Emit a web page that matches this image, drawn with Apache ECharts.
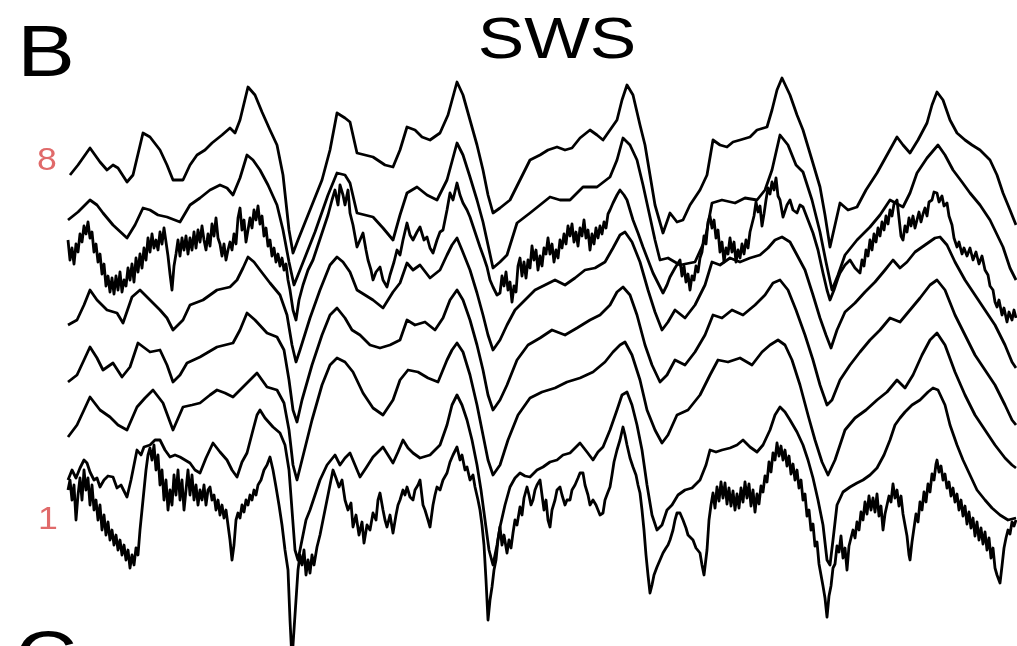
<!DOCTYPE html>
<html>
<head>
<meta charset="utf-8">
<script src="https://cdn.jsdelivr.net/npm/echarts@6/dist/echarts.min.js"></script>
<style>
html,body{margin:0;padding:0;background:#fff;}
#chart{width:1017px;height:646px;}
</style>
</head>
<body>
<div id="chart"></div>
<script>
// Time in samples from the start of the window, amplitude in µV (negative plotted up).
const panelLetter = 'B';
const nextPanelLetter = 'C';
const stageTitle = 'SWS';
const channelLabels = ['1', '8'];
const channelSpacing = 48;

const ch8 = [[2,25],[10,15],[22,-2],[32,12],[39,20],[45,15],[50,18],[59,32],[65,25],[75,-17],[82,-13],[92,0],[99,15],[105,30],[115,30],[122,15],[129,5],[137,0],[144,-7],[154,-15],[162,-22],[167,-17],[172,-30],[180,-63],[187,-55],[194,-38],[202,-20],[209,-5],[215,25],[221,80],[225,103],[230,90],[242,60],[254,30],[262,0],[269,-37],[277,-32],[282,-28],[289,3],[297,5],[305,7],[317,15],[325,17],[332,0],[339,-23],[347,-20],[354,-13],[362,-10],[372,-17],[380,-35],[389,-68],[395,-55],[402,-30],[409,-5],[415,20],[420,45],[425,63],[432,58],[442,50],[452,30],[462,10],[472,5],[480,0],[489,-3],[497,0],[504,-2],[512,-12],[522,-20],[529,-15],[535,-10],[542,-20],[549,-30],[554,-50],[559,-65],[565,-55],[572,-25],[577,-5],[582,25],[587,55],[595,83],[602,63],[609,72],[615,70],[622,55],[632,40],[639,25],[645,-10],[652,-5],[659,-3],[665,-8],[672,-10],[682,-13],[689,-20],[699,-23],[704,-40],[709,-60],[714,-72],[722,-55],[729,-35],[735,-20],[744,10],[752,37],[757,65],[762,97],[767,75],[772,53],[780,60],[789,57],[798,40],[809,23],[819,5],[829,-13],[835,-5],[842,3],[850,-10],[859,-27],[864,-45],[869,-58],[875,-50],[882,-30],[889,-17],[897,-10],[904,-5],[912,0],[922,10],[929,25],[935,43],[942,60],[948,75]];

const ch7 = [[0,22],[10,14],[22,2],[29,7],[35,15],[45,27],[59,40],[67,27],[75,10],[82,12],[90,17],[99,19],[112,24],[122,7],[132,0],[142,-8],[152,-13],[159,-10],[165,-3],[172,-20],[179,-43],[185,-38],[192,-28],[200,-13],[209,7],[215,32],[221,64],[226,87],[232,72],[247,34],[260,-3],[269,-25],[277,-23],[282,-15],[289,15],[297,17],[305,19],[315,30],[325,42],[332,17],[339,-5],[349,-11],[359,-3],[369,2],[379,-18],[389,-55],[395,-43],[402,-21],[409,2],[415,24],[420,47],[425,70],[432,64],[439,57],[449,25],[462,15],[472,7],[482,-1],[492,2],[502,2],[515,-11],[529,-11],[542,-21],[549,-38],[555,-60],[562,-53],[569,-38],[575,-13],[582,19],[587,42],[592,62],[600,60],[612,67],[627,64],[637,42],[644,5],[654,2],[667,5],[677,0],[689,2],[697,-8],[704,-28],[712,-63],[720,-53],[728,-33],[735,-26],[744,2],[752,34],[758,64],[764,92],[770,77],[777,57],[789,42],[802,29],[812,17],[822,2],[835,9],[842,-5],[849,-25],[859,-40],[870,-53],[877,-43],[885,-28],[894,-16],[902,-5],[912,7],[922,22],[935,49],[942,70],[948,82]];

const ch6 = [[0,-6],[2,14],[4,2],[6,18],[8,-2],[10,6],[12,-12],[14,-4],[16,-20],[18,-12],[20,-24],[22,-8],[24,-14],[26,6],[28,-2],[30,16],[32,8],[34,28],[36,18],[38,40],[40,30],[42,46],[44,32],[46,48],[48,30],[50,44],[52,26],[54,46],[56,34],[58,40],[60,22],[62,34],[64,18],[66,36],[68,12],[70,26],[72,8],[74,22],[76,2],[78,14],[80,-8],[82,6],[84,-12],[86,2],[88,-6],[90,4],[92,-14],[94,-2],[96,-18],[98,-4],[100,10],[102,28],[104,44],[106,20],[108,8],[110,-6],[112,10],[114,-8],[116,4],[118,-10],[120,8],[122,-8],[124,4],[126,-14],[128,2],[130,-16],[132,-4],[134,-20],[136,-6],[138,4],[140,-12],[142,0],[144,-22],[146,-10],[148,-28],[150,-8],[152,-2],[154,10],[156,-2],[158,14],[160,4],[162,-4],[164,4],[166,-12],[168,-2],[170,-28],[172,-38],[174,-16],[176,-26],[178,-4],[180,-16],[182,-28],[184,-18],[186,-36],[188,-26],[190,-40],[192,-22],[194,-30],[196,-10],[198,-18],[200,0],[202,-6],[204,10],[206,2],[208,16],[210,8],[212,20],[214,12],[216,24],[218,18],[220,34],[222,44],[225,64],[228,74],[231,54],[235,39],[240,24],[245,14],[250,-1],[255,-16],[260,-31],[264,-46],[267,-56],[270,-41],[272,-61],[275,-51],[277,-41],[280,-56],[282,-33],[285,-21],[289,1],[292,-6],[295,-13],[298,4],[300,14],[303,24],[305,34],[308,26],[312,21],[315,34],[319,41],[322,29],[326,16],[329,4],[332,9],[335,-6],[339,-23],[342,-11],[345,-6],[349,-14],[352,-19],[356,-6],[359,-9],[362,2],[365,7],[369,-6],[372,-14],[375,-16],[379,-36],[382,-53],[385,-46],[389,-63],[392,-51],[395,-43],[399,-36],[402,-29],[407,-14],[412,1],[416,12],[419,21],[422,34],[425,41],[429,49],[432,47],[434,30],[436,40],[438,26],[440,44],[442,36],[444,56],[446,40],[448,46],[450,20],[452,12],[454,30],[456,16],[458,32],[460,14],[462,22],[464,0],[466,14],[468,4],[470,24],[472,10],[474,20],[476,2],[478,8],[480,-8],[482,8],[484,-2],[486,16],[488,4],[490,12],[492,-6],[494,2],[496,-12],[498,-2],[500,-20],[502,-10],[504,-22],[506,-4],[508,-14],[510,0],[512,-18],[514,-10],[516,-26],[518,-8],[520,-16],[522,4],[524,-12],[526,-2],[528,-18],[530,-8],[532,-20],[534,-12],[536,-24],[538,-18],[540,-32],[542,-36],[545,-43],[549,-51],[552,-56],[556,-51],[559,-46],[562,-36],[565,-26],[570,-13],[575,1],[580,14],[585,27],[590,37],[595,47],[599,39],[602,31],[607,22],[612,14],[614,30],[616,20],[618,36],[620,28],[622,44],[624,30],[626,34],[628,20],[630,26],[632,12],[634,6],[636,-10],[638,-2],[640,-24],[642,-30],[644,-18],[646,-26],[648,-8],[650,-16],[652,6],[654,-4],[656,16],[658,2],[660,8],[662,-8],[664,6],[666,-4],[668,16],[670,4],[672,12],[674,-2],[676,8],[678,-6],[680,2],[682,-14],[684,-22],[686,-30],[688,-44],[690,-34],[692,-40],[694,-20],[696,-32],[698,-46],[700,-58],[702,-52],[704,-64],[706,-56],[708,-68],[710,-50],[712,-46],[715,-29],[719,-41],[722,-46],[725,-36],[729,-33],[732,-41],[735,-39],[740,-26],[745,-13],[750,4],[755,27],[759,44],[762,54],[766,44],[770,32],[772,27],[777,19],[782,14],[787,22],[792,27],[794,14],[796,20],[798,4],[800,10],[802,-6],[804,4],[806,-12],[808,-4],[810,-18],[812,-10],[814,-24],[816,-16],[818,-30],[820,-22],[822,-36],[824,-30],[826,-42],[829,-46],[831,-28],[833,-10],[835,-6],[837,-20],[839,-14],[841,-28],[843,-20],[845,-30],[847,-18],[849,-26],[851,-34],[853,-24],[855,-32],[857,-38],[859,-30],[861,-44],[864,-46],[866,-54],[869,-53],[871,-44],[874,-50],[876,-40],[879,-43],[881,-30],[884,-21],[886,-8],[889,1],[891,-4],[894,8],[896,2],[899,10],[902,2],[905,14],[908,6],[911,18],[914,10],[917,24],[920,29],[922,40],[925,44],[927,56],[929,61],[931,54],[934,69],[936,62],[939,76],[941,66],[944,74],[946,64],[948,72]];

const ch5 = [[0,31],[9,26],[16,11],[22,-4],[29,6],[39,16],[49,19],[55,29],[64,3],[72,-4],[82,6],[92,16],[99,24],[105,36],[115,26],[122,11],[135,6],[149,-4],[162,-7],[169,-14],[175,-26],[180,-37],[186,-32],[192,-24],[202,-11],[212,1],[219,21],[224,51],[228,68],[232,56],[242,24],[252,-4],[262,-29],[269,-37],[275,-32],[282,-22],[289,-4],[297,1],[305,6],[315,14],[325,-2],[332,-11],[339,-31],[345,-24],[352,-29],[362,-16],[372,-24],[379,-39],[384,-49],[389,-56],[394,-44],[402,-24],[409,-1],[415,21],[420,41],[425,56],[432,46],[439,31],[447,16],[457,6],[467,-4],[477,-9],[487,-14],[497,-9],[507,-16],[517,-24],[527,-26],[537,-32],[545,-46],[552,-59],[557,-62],[564,-52],[572,-32],[580,-4],[587,18],[594,36],[600,28],[607,16],[617,24],[627,11],[637,-9],[644,-32],[652,-29],[662,-36],[672,-32],[682,-36],[692,-39],[700,-46],[707,-54],[714,-57],[722,-52],[729,-39],[737,-24],[745,1],[752,24],[758,41],[763,54],[769,36],[777,18],[787,9],[797,-2],[807,-12],[817,-24],[825,-34],[832,-26],[839,-32],[847,-42],[857,-49],[867,-56],[872,-57],[879,-49],[887,-32],[897,-14],[907,1],[917,16],[927,31],[937,51],[944,68],[948,74]];

const ch4 = [[0,40],[9,33],[16,18],[22,5],[29,16],[35,28],[45,21],[54,35],[62,25],[70,1],[82,10],[92,8],[99,23],[105,40],[112,33],[119,21],[132,15],[149,5],[165,1],[172,-12],[179,-29],[187,-22],[199,-9],[209,-5],[216,8],[221,38],[225,68],[229,80],[234,58],[244,23],[254,-7],[262,-27],[269,-34],[277,-24],[284,-12],[292,-7],[302,3],[312,6],[322,3],[332,-2],[339,-22],[347,-17],[357,-20],[367,-12],[375,-24],[382,-42],[389,-52],[395,-42],[402,-22],[409,3],[415,28],[420,53],[425,68],[432,58],[439,43],[449,18],[460,3],[472,-4],[484,-12],[497,-7],[509,-14],[522,-22],[532,-27],[542,-37],[549,-50],[555,-55],[562,-47],[569,-27],[577,3],[584,23],[592,40],[599,33],[607,18],[617,23],[627,10],[637,-7],[645,-27],[654,-24],[664,-32],[675,-27],[687,-37],[697,-47],[705,-59],[712,-62],[720,-52],[728,-32],[737,-7],[745,18],[752,43],[759,63],[764,58],[772,38],[782,23],[792,10],[802,-2],[812,-12],[822,-24],[832,-20],[842,-32],[852,-44],[862,-57],[869,-62],[877,-52],[887,-27],[897,-7],[907,13],[917,28],[927,43],[937,63],[944,78],[948,83]];

const ch3 = [[0,47],[9,35],[16,20],[22,7],[32,20],[42,27],[50,35],[59,40],[69,17],[77,8],[85,0],[95,13],[105,40],[115,17],[124,15],[132,13],[142,5],[149,0],[157,3],[165,7],[177,-5],[189,-17],[199,-3],[209,0],[216,13],[221,40],[225,75],[229,90],[234,70],[244,30],[254,-5],[262,-25],[269,-32],[277,-28],[285,-18],[295,3],[305,18],[315,25],[325,10],[332,-10],[340,-20],[350,-18],[360,-12],[370,-8],[379,-30],[384,-40],[389,-47],[395,-38],[402,-15],[409,15],[415,45],[420,70],[425,85],[432,75],[440,50],[450,25],[462,8],[474,2],[487,-2],[499,-8],[512,-12],[525,-18],[537,-28],[545,-38],[552,-45],[557,-48],[564,-35],[572,-10],[579,20],[587,40],[594,53],[600,45],[609,25],[620,20],[632,5],[642,-15],[650,-30],[660,-28],[672,-32],[684,-25],[694,-38],[702,-45],[710,-50],[717,-45],[724,-30],[732,-5],[740,25],[747,50],[754,72],[760,85],[767,70],[777,40],[787,28],[798,20],[809,10],[819,2],[829,-10],[837,-2],[845,-15],[854,-35],[862,-50],[869,-57],[877,-45],[887,-18],[897,5],[907,25],[917,40],[927,55],[937,68],[944,75],[948,78]];

const ch2 = [[0,42],[4,32],[8,40],[12,30],[16,22],[19,25],[22,34],[26,42],[29,40],[32,49],[36,42],[40,38],[45,39],[49,50],[53,47],[59,59],[63,42],[66,27],[69,12],[73,17],[76,9],[82,7],[87,2],[92,2],[97,12],[102,19],[107,17],[112,19],[117,22],[122,25],[127,32],[132,35],[138,20],[145,5],[152,14],[159,22],[164,32],[169,39],[174,24],[179,15],[185,-8],[189,-23],[192,-28],[197,-20],[205,-11],[212,-5],[217,7],[221,32],[224,72],[227,112],[230,122],[234,102],[238,82],[242,72],[247,57],[252,42],[259,27],[267,17],[272,27],[277,20],[282,15],[287,27],[292,39],[298,30],[305,19],[310,14],[315,9],[320,17],[325,25],[330,14],[335,2],[340,10],[345,15],[352,20],[362,17],[372,7],[379,-13],[384,-33],[389,-43],[394,-33],[399,-18],[404,2],[409,27],[413,52],[417,82],[421,112],[425,127],[429,107],[432,89],[437,67],[442,49],[447,40],[452,35],[457,38],[462,39],[469,32],[475,29],[482,24],[489,22],[495,17],[502,15],[507,10],[512,5],[519,14],[525,22],[530,14],[535,9],[542,-8],[549,-28],[554,-43],[559,-46],[564,-33],[569,-13],[574,12],[579,47],[584,77],[589,92],[594,87],[599,72],[604,67],[610,57],[617,52],[624,50],[632,42],[638,27],[642,12],[648,14],[654,12],[662,10],[669,7],[675,2],[682,9],[689,14],[695,7],[702,-8],[707,-23],[712,-31],[717,-26],[722,-18],[729,-6],[735,7],[740,22],[745,40],[750,62],[755,87],[759,122],[762,127],[765,102],[769,67],[775,54],[782,49],[789,45],[795,42],[802,37],[809,30],[816,17],[822,2],[827,-13],[832,-20],[837,-26],[844,-33],[852,-38],[860,-46],[865,-50],[870,-48],[877,-33],[882,-13],[889,7],[895,22],[902,37],[909,52],[917,62],[924,70],[932,77],[940,82],[948,80]];

const ch1 = [[0,4],[2,-6],[4,14],[6,-1],[8,34],[10,9],[12,-8],[14,14],[16,-16],[18,4],[20,-8],[22,19],[24,-1],[26,24],[28,14],[30,34],[32,19],[34,44],[36,29],[38,49],[40,36],[42,54],[44,44],[46,59],[48,49],[50,64],[52,54],[54,69],[56,59],[58,74],[60,64],[62,82],[64,69],[66,79],[68,62],[70,69],[72,44],[74,24],[76,4],[78,-16],[80,-31],[82,-38],[84,-26],[86,-41],[88,-16],[90,-31],[92,-1],[94,-16],[96,14],[98,-6],[100,24],[102,4],[104,19],[106,-11],[108,9],[110,-16],[112,14],[114,-6],[116,24],[118,4],[120,-16],[122,9],[124,-11],[126,14],[128,-1],[130,19],[132,4],[134,14],[136,-1],[138,19],[140,4],[142,1],[144,14],[146,9],[148,24],[150,14],[152,29],[154,19],[156,32],[158,24],[160,39],[162,54],[164,74],[166,59],[168,34],[170,27],[172,32],[174,19],[176,26],[178,14],[180,19],[182,9],[184,14],[186,4],[188,9],[190,-1],[193,-6],[196,-16],[199,-21],[202,-29],[205,-16],[208,1],[211,19],[214,39],[217,64],[220,84],[222,134],[224,174],[226,174],[228,114],[230,84],[232,69],[234,79],[236,64],[238,89],[240,74],[242,87],[244,69],[246,79],[249,61],[252,49],[255,34],[259,14],[262,-1],[265,-16],[268,-8],[271,1],[274,-6],[277,14],[280,24],[283,17],[285,41],[288,29],[291,49],[294,36],[296,57],[299,39],[302,44],[305,27],[308,34],[310,14],[312,7],[315,24],[317,34],[319,41],[322,29],[325,47],[328,29],[330,19],[332,14],[335,4],[337,9],[339,1],[342,11],[345,14],[347,4],[350,-1],[352,-6],[355,19],[357,24],[360,34],[362,41],[365,19],[367,9],[369,1],[372,4],[375,-6],[377,-8],[379,-13],[382,-24],[385,-31],[389,-39],[392,-26],[394,-31],[397,-16],[399,-19],[402,-6],[405,-11],[407,1],[410,14],[412,24],[414,39],[416,59],[418,94],[419,114],[420,134],[422,114],[424,101],[426,84],[428,74],[430,54],[432,41],[434,59],[436,49],[439,67],[441,54],[443,62],[445,47],[447,34],[449,39],[452,21],[454,29],[456,12],[459,1],[461,9],[463,19],[465,14],[467,4],[469,-1],[472,-6],[474,9],[476,24],[478,14],[480,34],[482,41],[484,24],[487,14],[489,4],[492,1],[494,9],[497,19],[499,14],[502,14],[504,4],[507,-1],[510,-8],[512,-13],[515,-13],[517,-1],[520,9],[522,19],[525,14],[528,19],[530,24],[532,29],[535,27],[537,14],[540,6],[542,1],[544,-11],[546,-24],[549,-36],[552,-46],[555,-59],[557,-51],[559,-41],[562,-28],[565,-19],[568,-11],[570,-1],[572,7],[574,24],[576,44],[578,69],[580,89],[582,107],[584,99],[586,89],[589,81],[592,74],[595,67],[598,62],[600,59],[602,54],[605,44],[607,34],[609,27],[612,27],[615,34],[618,42],[620,49],[622,47],[625,54],[628,62],[630,64],[632,67],[634,79],[636,89],[637,91],[639,64],[641,34],[643,19],[645,7],[647,22],[649,1],[651,15],[653,-4],[655,12],[657,-3],[659,18],[661,2],[663,20],[665,5],[667,24],[669,8],[671,22],[673,2],[675,16],[677,-4],[679,12],[681,-2],[683,20],[685,4],[687,26],[689,8],[691,18],[693,0],[695,6],[697,-10],[699,-4],[701,-24],[703,-14],[705,-33],[707,-26],[709,-43],[711,-30],[713,-40],[715,-26],[717,-36],[719,-20],[721,-30],[723,-12],[725,-22],[727,-6],[729,-16],[731,2],[733,-6],[735,14],[737,8],[739,30],[741,24],[743,44],[745,38],[747,60],[749,56],[751,78],[753,76],[755,100],[757,112],[759,131],[761,110],[763,100],[765,82],[767,78],[769,60],[771,66],[773,50],[775,72],[777,62],[779,84],[781,60],[783,62],[785,44],[787,52],[789,36],[791,44],[793,26],[795,34],[797,16],[799,28],[801,10],[803,24],[805,12],[807,26],[809,8],[811,30],[813,20],[815,44],[817,28],[819,30],[821,10],[823,16],[825,-2],[827,12],[829,4],[831,20],[833,10],[835,28],[837,26],[839,50],[841,69],[842,74],[844,56],[846,42],[848,28],[850,36],[852,16],[854,24],[856,6],[858,16],[860,-2],[862,6],[864,-12],[866,-6],[868,-22],[869,-26],[871,-14],[873,-20],[875,-6],[877,-12],[879,2],[881,-4],[883,10],[885,2],[887,16],[889,8],[891,24],[893,14],[895,30],[897,20],[899,38],[901,26],[903,42],[905,32],[907,50],[909,36],[911,54],[913,42],[915,58],[917,46],[919,64],[921,52],[923,72],[925,62],[927,82],[929,89],[932,97],[934,80],[936,62],[938,52],[940,44],[942,48],[944,36],[946,40],[948,34]];

const channels = [ch1, ch2, ch3, ch4, ch5, ch6, ch7, ch8];

const chart = echarts.init(document.getElementById('chart'), null, {renderer: 'canvas'});
const font = 'Liberation Sans, Arial, Helvetica, sans-serif';

const series = channels.map((d, i) => ({
  type: 'line',
  name: 'ch' + (i + 1),
  data: d.map(([t, v]) => [t, v + (channels.length - 1 - i) * channelSpacing]),
  showSymbol: false,
  symbol: 'none',
  silent: true,
  lineStyle: {color: '#000', width: 2.8, join: 'round'},
  z: 2
}));

chart.setOption({
  backgroundColor: '#ffffff',
  animation: false,
  grid: {left: 68, right: 0, top: 0, bottom: 0, containLabel: false},
  xAxis: {type: 'value', min: 0, max: 949, show: false},
  yAxis: {type: 'value', min: -150, max: 496, inverse: true, show: false},
  graphic: [
    {type: 'text', x: 46, y: 56, scaleX: 1.2, style: {text: panelLetter, font: '72px ' + font, fill: '#000', align: 'center', verticalAlign: 'middle'}},
    {type: 'text', x: 46, y: 662, scaleX: 1.2, style: {text: nextPanelLetter, font: '72px ' + font, fill: '#000', align: 'center', verticalAlign: 'middle'}},
    {type: 'text', x: 557, y: 42, scaleX: 1.2, style: {text: stageTitle, font: '58px ' + font, fill: '#000', align: 'center', verticalAlign: 'middle'}},
    {type: 'text', x: 47, y: 161, scaleX: 1.15, style: {text: channelLabels[1], font: '31px ' + font, fill: '#e06a6a', align: 'center', verticalAlign: 'middle'}},
    {type: 'text', x: 48, y: 520, scaleX: 1.15, style: {text: channelLabels[0], font: '31px ' + font, fill: '#e06a6a', align: 'center', verticalAlign: 'middle'}}
  ],
  series: series
});
</script>
</body>
</html>
